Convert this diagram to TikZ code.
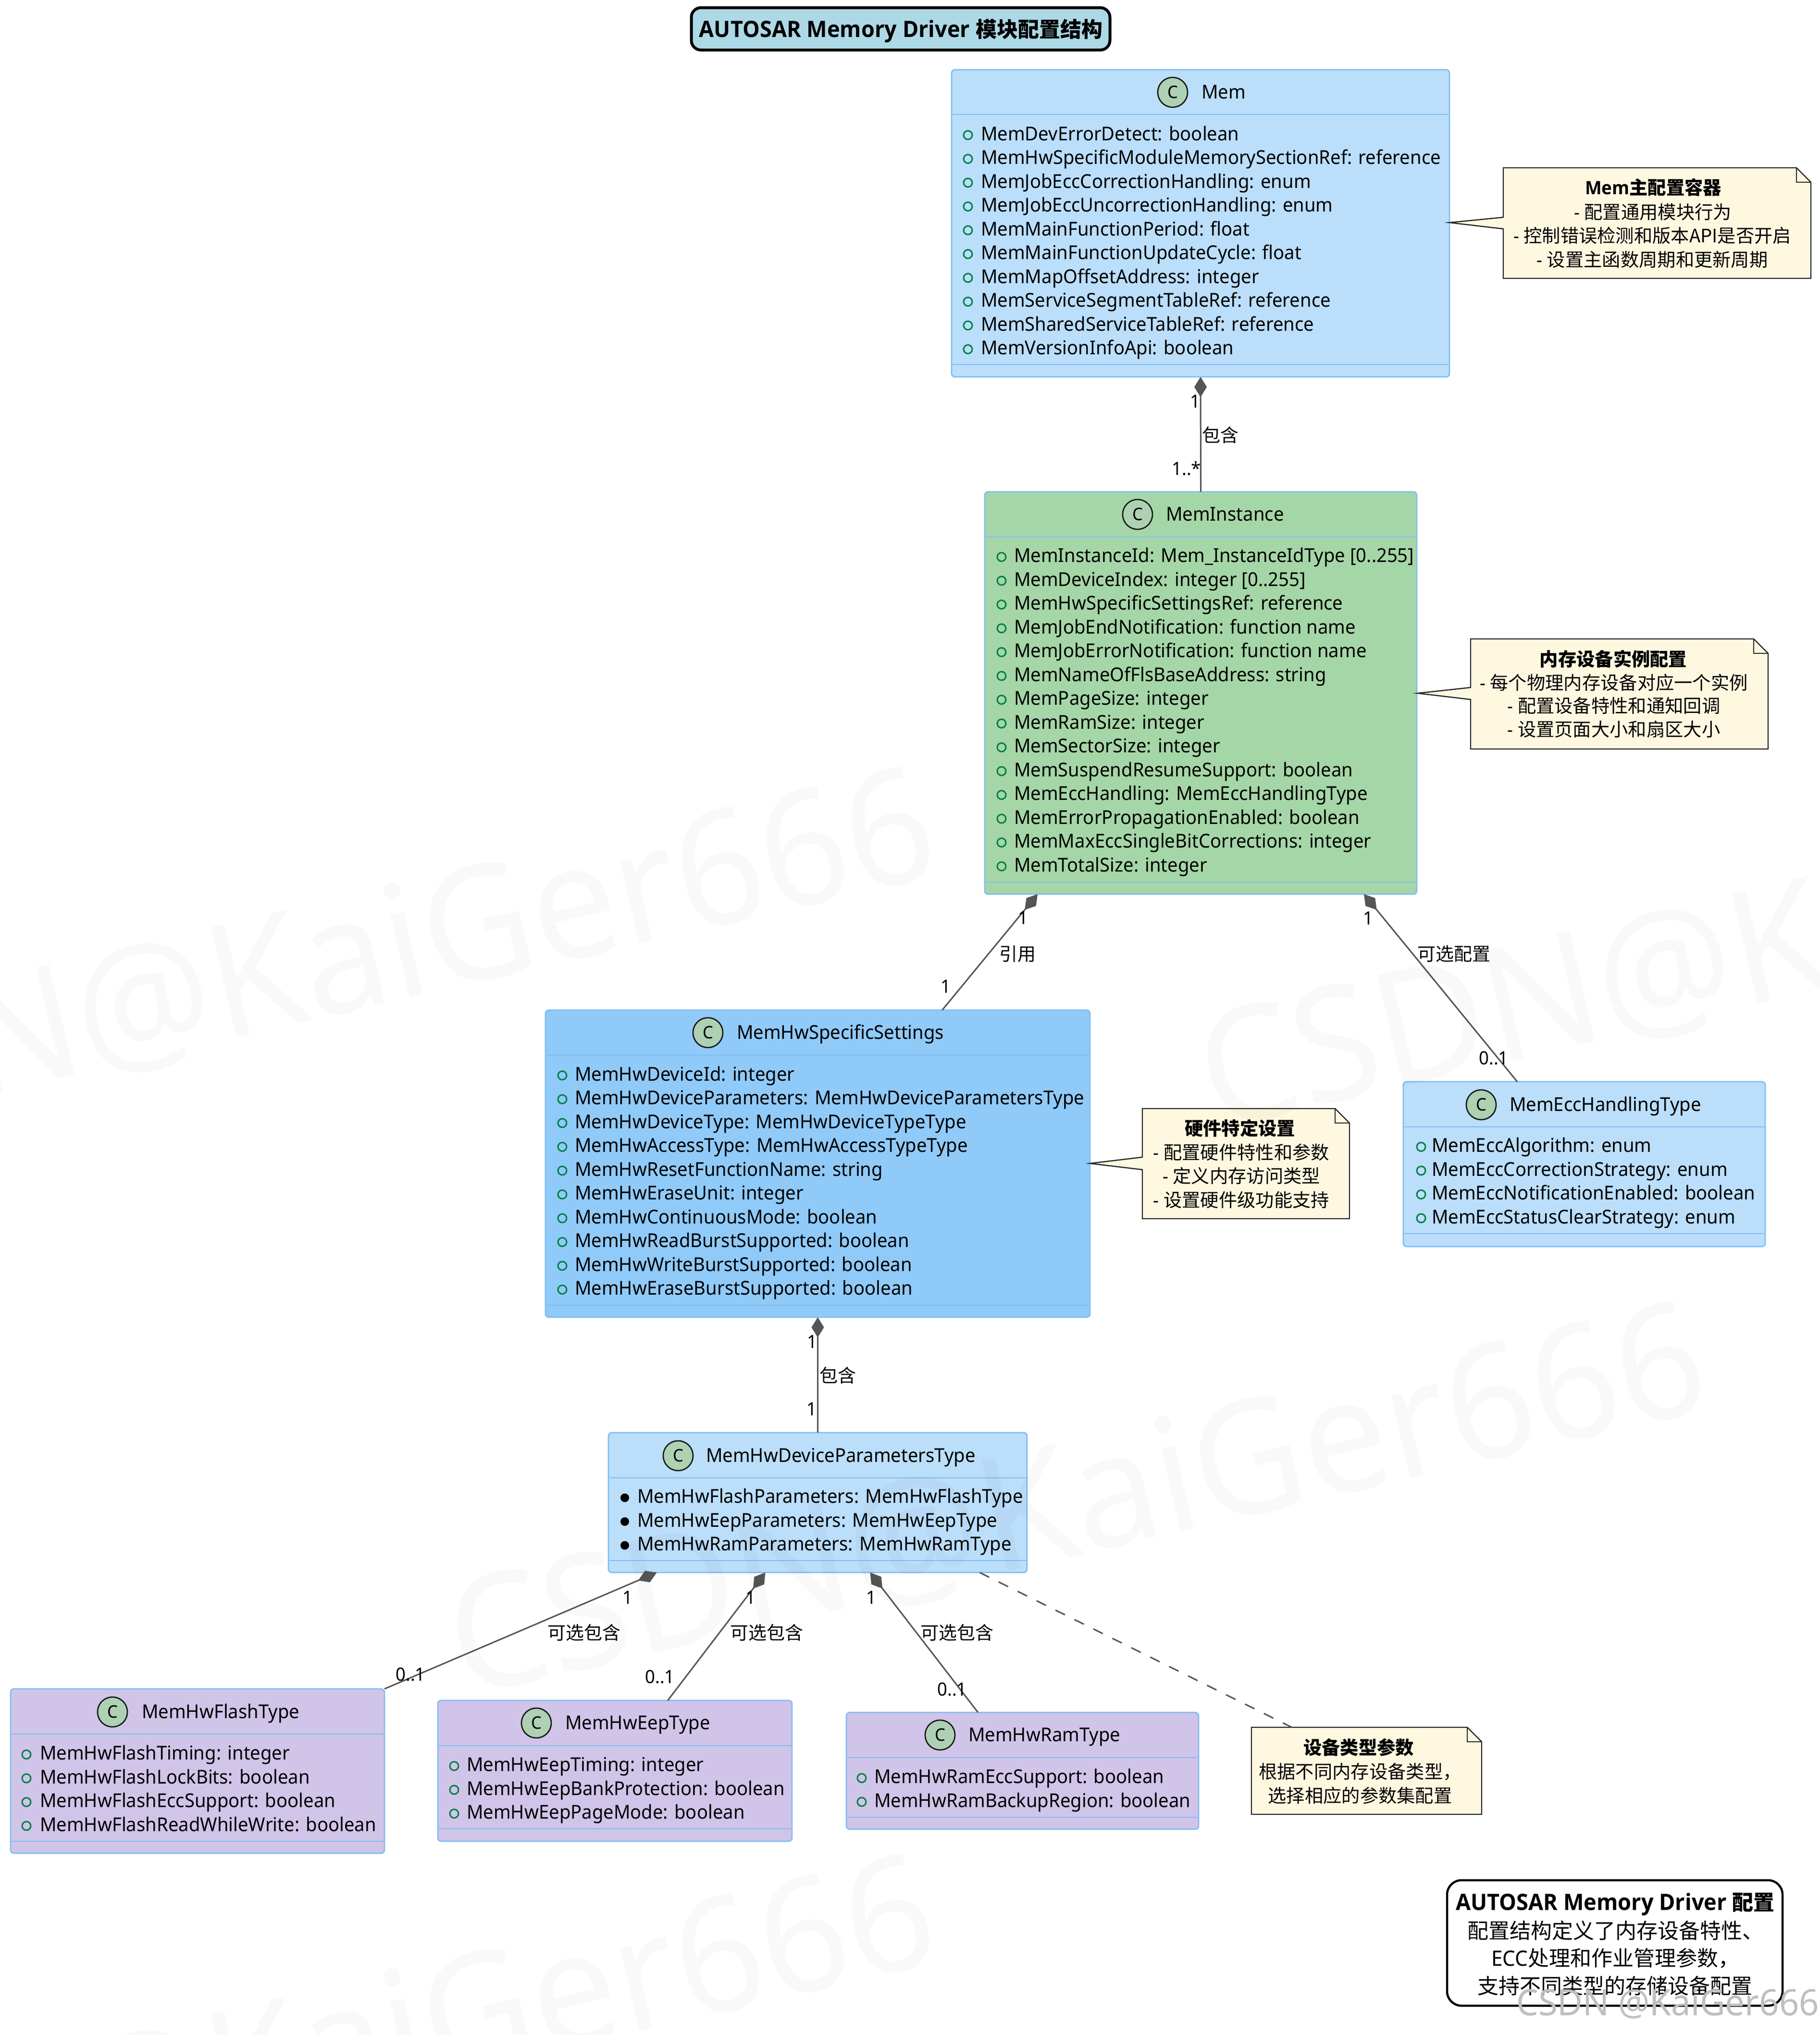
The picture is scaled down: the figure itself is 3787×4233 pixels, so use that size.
\documentclass[tikz,border=0pt]{standalone}
\usepackage{fontspec}
\setmainfont[FakeStretch=0.96]{Noto Sans}
\newfontfamily\cjk{Noto Sans CJK SC}
\newfontfamily\latb[FakeStretch=0.96]{Open Sans}
\usetikzlibrary{arrows.meta,calc}
\newcommand\zh[1]{{\cjk #1}}
\definecolor{bordc}{HTML}{7FBDF2}
\definecolor{cmem}{HTML}{BBDEFB}
\definecolor{cinst}{HTML}{A5D6A7}
\definecolor{cset}{HTML}{90CAF9}
\definecolor{cpur}{HTML}{D1C4E9}
\definecolor{cnote}{HTML}{FFF8E1}
\definecolor{ctitle}{HTML}{ADD8E6}
\definecolor{cbadge}{HTML}{ADD1B2}
\definecolor{cgreen}{HTML}{038048}
\definecolor{cline}{HTML}{555555}
\tikzset{
  x=1pt,y=-1pt,
  every node/.style={inner sep=0pt,outer sep=0pt},
  classshape/.style={draw=bordc,line width=2.7pt,rounded corners=7pt,rectangle},
  classline/.style={draw=bordc,line width=2.5pt},
  txt/.style={font=\fontsize{39.8}{46}\selectfont,text=black,text height=33pt,text depth=6pt},
  badge/.style={circle,draw=black!90,line width=2.7pt,fill=cbadge,minimum size=62pt,font=\fontsize{36}{40}\selectfont},
  notetxt/.style={txt,anchor=center,font=\fontsize{38.3}{44}\selectfont},
  notebody/.style={draw=black!85,line width=2.4pt,fill=cnote,line join=miter},
  conn/.style={draw=cline,line width=3pt},
  comp/.style={conn,{Diamond[length=42pt,width=26pt,fill=cline,line width=0pt]}-},
  lab/.style={txt,font=\fontsize{38}{44}\selectfont},
  wm/.style={font=\fontsize{330}{330}\selectfont,text=black,text opacity=0.022,rotate=13},
  headtxt/.style={txt,font=\fontsize{47}{54}\selectfont},
  legtxt/.style={txt,font=\fontsize{44}{52}\selectfont},
}
% name x1 y1 x2 y2 headerline bottomline fill badgex badgey namex title
\newcommand\classbox[9]{%
  \pgfmathsetmacro\bcx{(#2+#4)/2}\pgfmathsetmacro\bcy{(#3+#5)/2}%
  \pgfmathsetmacro\bw{#4-#2}\pgfmathsetmacro\bh{#5-#3}%
  \node[classshape,fill=#8,minimum width=\bw pt,minimum height=\bh pt] (#1) at (\bcx,\bcy) {};
  \draw[classline] (#2+2,#6) -- (#4-2,#6);
  \draw[classline] (#2+2,#7) -- (#4-2,#7);
  \classhead{#1}#9}
\newcommand\classhead[5]{%
  \node[badge] (#1C) at (#2,#3) {C};
  \node[txt,anchor=west] (#1T) at (#4,#3) {#5};}
% name textx y0 list
\newcommand\members[5]{%
  \foreach \t [count=\i from 0] in {#5} {
    \pgfmathsetmacro\yy{#4+\i*49.5}
    \draw[cgreen,line width=3pt] (#3,\yy+2.5) circle (9pt);
    \node[txt,anchor=west] (#1m\i) at (#2,\yy) {\t};
  }}
\newcommand\bmembers[5]{%
  \foreach \t [count=\i from 0] in {#5} {
    \pgfmathsetmacro\yy{#4+\i*49.5}
    \fill[black] (#3,\yy+2.5) circle (9pt);
    \node[txt,anchor=west] (#1m\i) at (#2,\yy) {\t};
  }}
% name x1 y1 x2 y2
\newcommand\notebase[5]{%
  \pgfmathsetmacro\bcx{(#2+#4)/2}\pgfmathsetmacro\bcy{(#3+#5)/2}%
  \pgfmathsetmacro\bw{#4-#2}\pgfmathsetmacro\bh{#5-#3}%
  \node[minimum width=\bw pt,minimum height=\bh pt] (#1) at (\bcx,\bcy) {};}
\newcommand\notewedge[9]{% name x1 y1 x2 y2 tipx tipy j1 j2
  \filldraw[notebody] (#2,#3) -- (#2,#8) -- (#6,#7) -- (#2,#9) -- (#2,#5) -- (#4,#5) -- (#4,#3+30) -- (#4-30,#3) -- cycle;
  \draw[notebody,fill=none] (#4-30,#3) -- (#4-30,#3+30) -- (#4,#3+30);
  \notebase{#1}{#2}{#3}{#4}{#5}}
\begin{document}
\begin{tikzpicture}
\useasboundingbox (0,0) rectangle (3787,4233);
\fill[white] (0,0) rectangle (3787,4233);

% title
\node[draw=black,line width=6pt,rounded corners=20pt,fill=ctitle,minimum width=871pt,minimum height=88pt] (title) at (1874,60) {};
\node[headtxt] (titlet) at (1874.5,63.5) {{\latb\bfseries AUTOSAR Memory Driver} {\cjk\fontsize{44}{54}\selectfont\bfseries 模块配置结构}};

\classbox{mem}{1980}{145}{3016}{784}{238}{758}{cmem}{{2440}{192}{2500}{Mem}}
\members{mem}{2041}{2014}{278.5}{MemDevErrorDetect: boolean,MemHwSpecificModuleMemorySectionRef: reference,MemJobEccCorrectionHandling: enum,MemJobEccUncorrectionHandling: enum,MemMainFunctionPeriod: float,MemMainFunctionUpdateCycle: float,MemMapOffsetAddress: integer,MemServiceSegmentTableRef: reference,MemSharedServiceTableRef: reference,MemVersionInfoApi: boolean}

\classbox{inst}{2049}{1023}{2948}{1860}{1117}{1835}{cinst}{{2367}{1070}{2426}{MemInstance}}
\members{inst}{2110}{2084}{1156}{MemInstanceId: Mem\_InstanceIdType [0..255],MemDeviceIndex: integer [0..255],MemHwSpecificSettingsRef: reference,MemJobEndNotification: function name,MemJobErrorNotification: function name,MemNameOfFlsBaseAddress: string,MemPageSize: integer,MemRamSize: integer,MemSectorSize: integer,MemSuspendResumeSupport: boolean,MemEccHandling: MemEccHandlingType,MemErrorPropagationEnabled: boolean,MemMaxEccSingleBitCorrections: integer,MemTotalSize: integer}

\classbox{sett}{1135}{2101}{2268}{2740}{2195}{2715}{cset}{{1473}{2148}{1533}{MemHwSpecificSettings}}
\members{sett}{1196}{1170}{2234.5}{MemHwDeviceId: integer,MemHwDeviceParameters: MemHwDeviceParametersType,MemHwDeviceType: MemHwDeviceTypeType,MemHwAccessType: MemHwAccessTypeType,MemHwResetFunctionName: string,MemHwEraseUnit: integer,MemHwContinuousMode: boolean,MemHwReadBurstSupported: boolean,MemHwWriteBurstSupported: boolean,MemHwEraseBurstSupported: boolean}

\classbox{ecc}{2920}{2250}{3673}{2593}{2344}{2566}{cmem}{{3082}{2298}{3141}{MemEccHandlingType}}
\members{ecc}{2979}{2957}{2383}{MemEccAlgorithm: enum,MemEccCorrectionStrategy: enum,MemEccNotificationEnabled: boolean,MemEccStatusClearStrategy: enum}

\classbox{devp}{1266}{2980}{2137}{3271}{3074}{3246}{cmem}{{1411}{3028}{1469}{MemHwDeviceParametersType}}
\bmembers{devp}{1326}{1300}{3113}{MemHwFlashParameters: MemHwFlashType,MemHwEepParameters: MemHwEepType,MemHwRamParameters: MemHwRamType}

\classbox{flash}{22}{3513}{800}{3855}{3607}{3830}{cpur}{{234}{3561}{295}{MemHwFlashType}}
\members{flash}{83}{55}{3647}{MemHwFlashTiming: integer,MemHwFlashLockBits: boolean,MemHwFlashEccSupport: boolean,MemHwFlashReadWhileWrite: boolean}

\classbox{eep}{911}{3537}{1648}{3830}{3631}{3804}{cpur}{{1116}{3584}{1176}{MemHwEepType}}
\members{eep}{971}{945}{3671}{MemHwEepTiming: integer,MemHwEepBankProtection: boolean,MemHwEepPageMode: boolean}

\classbox{ram}{1761}{3562}{2494}{3805}{3656}{3780}{cpur}{{1956}{3609}{2015}{MemHwRamType}}
\members{ram}{1819}{1793}{3696}{MemHwRamEccSupport: boolean,MemHwRamBackupRegion: boolean}

% notes
\notewedge{n1}{3128}{349}{3768}{579}{3016}{463}{452}{476}
\node[notetxt] (n1a) at (3440,391) {{\latb\bfseries Mem}{\cjk\bfseries 主配置容器}};
\node[notetxt] (n1b) at (3439,442) {- \zh{配置通用模块行为}};
\node[notetxt] (n1c) at (3438,491) {- \zh{控制错误检测和版本API是否开启}};
\node[notetxt] (n1d) at (3438,541) {- \zh{设置主函数周期和更新周期}};

\notewedge{n2}{3060}{1329}{3679}{1558}{2950}{1442}{1430}{1455}
\node[notetxt] (n2a) at (3357,1372) {\zh{\bfseries 内存设备实例配置}};
\node[notetxt] (n2b) at (3358,1421) {- \zh{每个物理内存设备对应一个实例}};
\node[notetxt] (n2c) at (3358,1469) {- \zh{配置设备特性和通知回调}};
\node[notetxt] (n2d) at (3358,1518) {- \zh{设置页面大小和扇区大小}};

\notewedge{n3}{2377}{2306}{2808}{2535}{2268}{2420}{2407}{2433}
\node[notetxt] (n3a) at (2580,2348) {\zh{\bfseries 硬件特定设置}};
\node[notetxt] (n3b) at (2583,2398) {- \zh{配置硬件特性和参数}};
\node[notetxt] (n3c) at (2583,2447) {- \zh{定义内存访问类型}};
\node[notetxt] (n3d) at (2583,2497) {- \zh{设置硬件级功能支持}};

\filldraw[notebody] (2604,3593) -- (2604,3774) -- (3083,3774) -- (3083,3623) -- (3053,3593) -- cycle;
\draw[notebody,fill=none] (3053,3593) -- (3053,3623) -- (3083,3623);
\notebase{n4}{2604}{3593}{3083}{3774}
\node[notetxt] (n4a) at (2827,3636) {\zh{\bfseries 设备类型参数}};
\node[notetxt] (n4b) at (2830,3686) {\zh{根据不同内存设备类型，}};
\node[notetxt] (n4c) at (2830,3736) {\zh{选择相应的参数集配置}};

% connectors
\draw[comp] (mem.south) -- (inst.north);
\draw[comp] ([xshift=-339.5pt]inst.south) -- ([xshift=259pt]sett.north);
\draw[comp] ([xshift=339.5pt]inst.south) -- ([xshift=-139.5pt]ecc.north);
\draw[comp] (sett.south) -- (devp.north);
\draw[comp] ([xshift=-335pt]devp.south) -- (flash.north east);
\draw[comp] ([xshift=-109pt]devp.south) -- ([xshift=110pt]eep.north);
\draw[comp] ([xshift=109pt]devp.south) -- ([xshift=-92.5pt]ram.north);
\draw[conn,dash pattern=on 22pt off 22pt] ([xshift=337pt]devp.south) -- ([xshift=-155.5pt]n4.north);

% connector labels
\node[lab] (l1) at (2487,835) {1};
\node[lab,anchor=west] (l2) at (2501,906) {\zh{包含}};
\node[lab,anchor=east] (l3) at (2499,975) {1..*};
\node[lab] (l4) at (2129,1909) {1};
\node[lab,anchor=west] (l5) at (2079,1985) {\zh{引用}};
\node[lab] (l6) at (1968,2052) {1};
\node[lab] (l7) at (2847,1910) {1};
\node[lab] (l8) at (3025,1985) {\zh{可选配置}};
\node[lab] (l9) at (3108,2201) {0..1};
\node[lab] (l10) at (1690,2791) {1};
\node[lab,anchor=west] (l11) at (1705,2862) {\zh{包含}};
\node[lab] (l12) at (1689,2931) {1};
\node[lab] (l13) at (1306,3323) {1};
\node[lab] (l14) at (1215,3397) {\zh{可选包含}};
\node[lab] (l15) at (854,3483) {0..1};
\node[lab] (l16) at (1562,3323) {1};
\node[lab] (l17) at (1595,3397) {\zh{可选包含}};
\node[lab] (l18) at (1373,3488) {0..1};
\node[lab] (l19) at (1813,3323) {1};
\node[lab] (l20) at (1991,3397) {\zh{可选包含}};
\node[lab] (l21) at (1981,3514) {0..1};

% legend
\node[draw=black,line width=4.5pt,rounded corners=30pt,fill=white,minimum width=698pt,minimum height=261pt] (legend) at (3360,4041.5) {};
\node[headtxt] (lg1) at (3361,3959.5) {{\latb\bfseries AUTOSAR Memory Driver} {\cjk\fontsize{44}{54}\selectfont\bfseries 配置}};
\node[legtxt] (lg2) at (3361,4019) {\zh{配置结构定义了内存设备特性、}};
\node[legtxt] (lg3) at (3361,4076) {ECC\zh{处理和作业管理参数，}};
\node[legtxt] (lg4) at (3360,4134) {\zh{支持不同类型的存储设备配置}};

% watermarks
\begin{scope}
\clip (0,0) rectangle (3787,4233);
\node[wm,anchor=base east] (w1) at (1962,1819) {CSDN@KaiGer666};
\node[wm,anchor=base west] (w2) at (2525,2350) {CSDN@KaiGer666};
\node[wm,anchor=base west] (w3) at (964,3530) {CSDN@KaiGer666};
\node[wm,anchor=base east] (w4) at (1962,4080) {CSDN@KaiGer666};
\end{scope}
\node[font=\fontsize{75.5}{90}\selectfont,text=black!25,anchor=east] (w5) at (3785,4168) {CSDN @KaiGer666};
\end{tikzpicture}
\end{document}
